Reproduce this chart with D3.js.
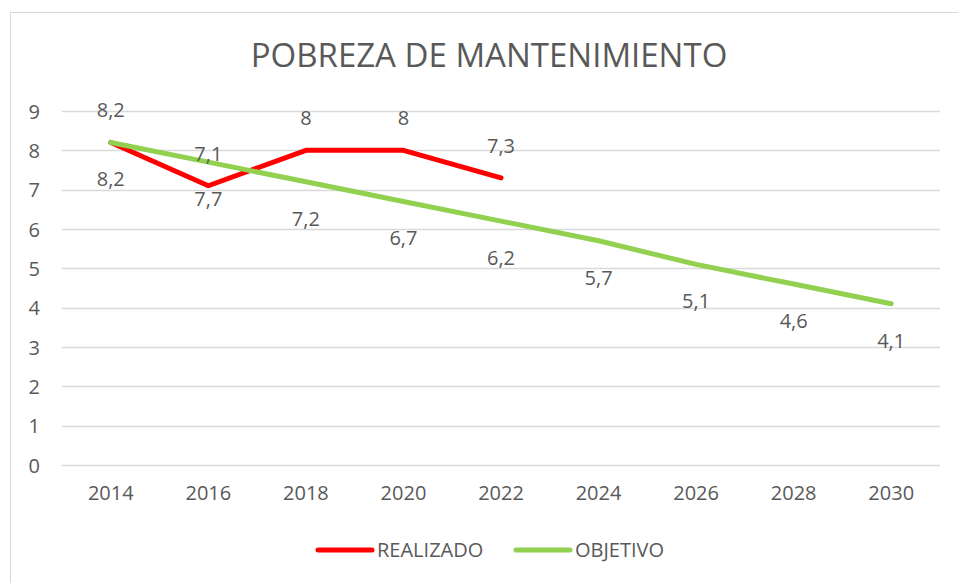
<!DOCTYPE html>
<html>
<head>
<meta charset="utf-8">
<script src="https://cdn.jsdelivr.net/npm/d3@7"></script>
<style>
  body { margin: 0; background: #fff; }
  text { font-family: "Open Sans", sans-serif; fill: #595959; }
</style>
</head>
<body>
<script>
document.addEventListener('DOMContentLoaded', () => {
  const width = 958;
  const height = 583;

  // chart data
  const years = ['2014', '2016', '2018', '2020', '2022', '2024', '2026', '2028', '2030'];
  const realizado = [8.2, 7.1, 8, 8, 7.3];
  const objetivo = [8.2, 7.7, 7.2, 6.7, 6.2, 5.7, 5.1, 4.6, 4.1];
  const yTicks = [0, 1, 2, 3, 4, 5, 6, 7, 8, 9];
  const seriesNames = ['REALIZADO', 'OBJETIVO'];
  const colors = ['#ff0000', '#92d050'];

  const plot = { left: 62, right: 940, top: 111, bottom: 465 };

  const svg = d3.select('body').append('svg')
    .attr('width', width)
    .attr('height', height);

  // chart frame (runs off the right and bottom of the picture)
  svg.append('rect')
    .attr('x', 10.5).attr('y', 12.5)
    .attr('width', 960).attr('height', 600)
    .attr('fill', '#fff')
    .attr('stroke', '#d9d9d9')
    .attr('stroke-width', 1);

  const x = d3.scaleBand()
    .domain(years)
    .range([plot.left, plot.right]);

  const y = d3.scaleLinear()
    .domain([0, 9])
    .range([plot.bottom, plot.top]);

  // title
  svg.append('text')
    .attr('x', 489)
    .attr('y', 67)
    .attr('text-anchor', 'middle')
    .style('font-size', '33px')
    .text('POBREZA DE MANTENIMIENTO');

  // gridlines
  svg.append('g').attr('class', 'grid')
    .selectAll('line').data(yTicks)
    .enter()
      .append('line')
      .attr('x1', plot.left).attr('x2', plot.right)
      .attr('y1', d => Math.round(y(d)) + 0.5)
      .attr('y2', d => Math.round(y(d)) + 0.5)
      .attr('stroke', '#d9d9d9')
      .attr('stroke-width', 1.5);

  // y axis labels
  const yAxis = svg.append('g')
    .attr('transform', `translate(${plot.left - 22},0)`)
    .call(d3.axisLeft(y).tickValues(yTicks).tickSize(0).tickPadding(0));
  yAxis.select('.domain').remove();
  yAxis.selectAll('text')
    .style('font-size', '20px')
    .attr('text-anchor', 'end')
    .attr('dy', '0.35em');

  // x axis labels
  const xAxis = svg.append('g')
    .attr('transform', `translate(0,${plot.bottom + 21})`)
    .call(d3.axisBottom(x).tickSize(0).tickPadding(0));
  xAxis.select('.domain').remove();
  xAxis.selectAll('text')
    .style('font-size', '20px')
    .attr('dy', '0.71em');

  const line = d3.line()
    .x((d, i) => x(years[i]) + x.bandwidth() / 2)
    .y(d => y(d));

  const series = [realizado, objetivo];

  svg.append('g').attr('class', 'lines')
    .selectAll('path').data(series)
    .enter()
      .append('path')
      .attr('d', d => line(d))
      .attr('fill', 'none')
      .attr('stroke', (d, i) => colors[i])
      .attr('stroke-width', 5)
      .attr('stroke-linejoin', 'round')
      .attr('stroke-linecap', 'round');

  // data labels: realizado above, objetivo below
  const fmt = v => String(v).replace('.', ',');
  const offsets = [-25, 44];
  series.forEach((s, si) => {
    svg.append('g').attr('class', 'labels')
      .selectAll('text').data(s)
      .enter()
        .append('text')
        .attr('x', (d, i) => x(years[i]) + x.bandwidth() / 2)
        .attr('y', d => y(d) + offsets[si])
        .attr('text-anchor', 'middle')
        .style('font-size', '20px')
        .text(d => fmt(d));
  });

  // legend
  const legend = svg.append('g').attr('class', 'legend');
  const legendX = [318, 516];
  seriesNames.forEach((name, i) => {
    legend.append('line')
      .attr('x1', legendX[i]).attr('x2', legendX[i] + 54)
      .attr('y1', 550).attr('y2', 550)
      .attr('stroke', colors[i])
      .attr('stroke-width', 5)
      .attr('stroke-linecap', 'round');
    legend.append('text')
      .attr('x', legendX[i] + 59)
      .attr('y', 557)
      .style('font-size', '20px')
      .text(name);
  });
});
</script>
</body>
</html>
